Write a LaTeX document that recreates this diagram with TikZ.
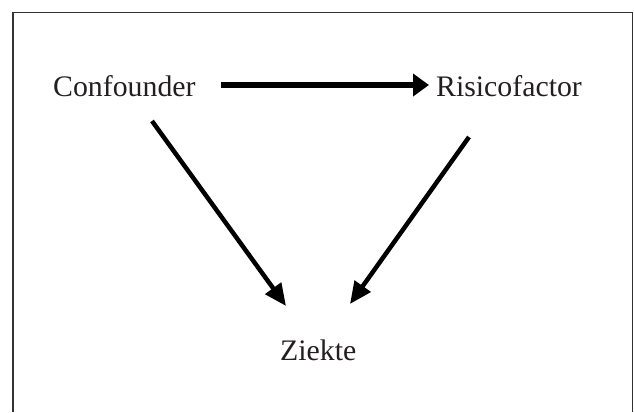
\documentclass[tikz,border=0pt]{standalone}
\usepackage{fontspec}
\setmainfont{Liberation Serif}
\usetikzlibrary{arrows.meta}
\definecolor{txt}{HTML}{231F20}
\definecolor{frm}{HTML}{333333}
\begin{document}
\begin{tikzpicture}[x=1pt,y=-1pt,
  lbl/.style={inner sep=0pt,anchor=base west,text=txt,font=\fontsize{29.8}{35}\selectfont},
  harrow/.style={line width=5.5pt,-{Triangle[length=16pt,width=22pt]}},
  darrow/.style={line width=4.5pt,-{Triangle[length=22pt,width=19pt]}}]
\useasboundingbox (0,0) rectangle (634,412);
\draw[frm,line width=1.3pt] (13,412) -- (13,12.5) -- (632.5,12.5) -- (632.5,412);
\node[lbl] (conf) at (53,96) {Confounder};
\node[lbl] (risk) at (436,96) {Risicofactor};
\node[lbl] (ziek) at (280,360) {Ziekte};
\coordinate (h1) at (221,85);
\coordinate (h2) at (429,85);
\coordinate (l1) at (152,121);
\coordinate (l2) at (286,306);
\coordinate (r1) at (469,137);
\coordinate (r2) at (350,304);
\draw[harrow] (h1) -- (h2);
\draw[darrow] (l1) -- (l2);
\draw[darrow] (r1) -- (r2);
\end{tikzpicture}
\end{document}
